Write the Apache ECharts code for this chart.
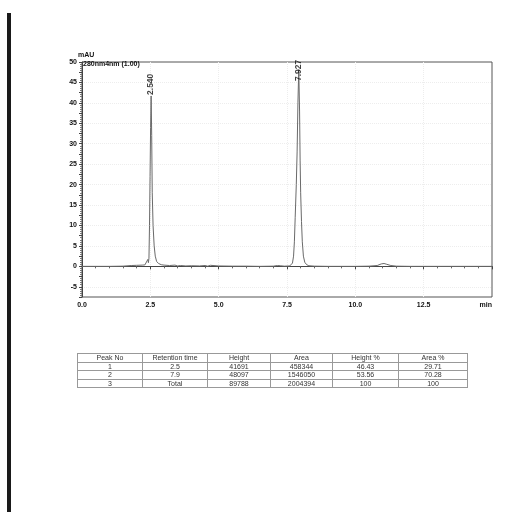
<!DOCTYPE html>
<html>
<head>
<meta charset="utf-8">
<script src="https://cdn.jsdelivr.net/npm/echarts@6/dist/echarts.min.js"></script>
<style>
  html, body { margin: 0; padding: 0; background: #fff; }
  #chart { position: absolute; left: 0; top: 0; width: 529px; height: 522px; }
  #tbl { position: absolute; left: 77px; top: 353px; border-collapse: collapse; table-layout: fixed;
         font-family: "Liberation Sans", Arial, sans-serif; font-size: 7px; color: #333; border: 1px solid #777; }
  #tbl td { border: 1px solid #999; text-align: center; padding: 0; height: 7.5px; line-height: 7px; white-space: nowrap; overflow: hidden; }
</style>
</head>
<body>
<div id="chart"></div>
<table id="tbl"></table>
<script>
// chromatogram trace (min, mAU)
var times = [0.0, 0.5, 1.0, 1.5, 1.8, 2.0, 2.2, 2.3, 2.36, 2.41, 2.43, 2.45, 2.47, 2.49, 2.51, 2.53, 2.55, 2.57, 2.60, 2.64, 2.68, 2.73, 2.80, 2.90, 3.0, 3.2, 3.4, 3.5, 3.6, 3.8, 4.0, 4.3, 4.5, 4.6, 4.7, 5.0, 5.5, 6.0, 6.5, 7.0, 7.15, 7.2, 7.25, 7.4, 7.6, 7.66, 7.70, 7.74, 7.77, 7.80, 7.84, 7.87, 7.90, 7.93, 7.96, 7.98, 8.00, 8.03, 8.06, 8.10, 8.15, 8.22, 8.30, 8.50, 9.0, 9.5, 10.0, 10.5, 10.8, 10.95, 11.05, 11.15, 11.3, 11.5, 12.0, 13.0, 14.0, 15.0];
var signal = [0.0, 0.0, 0.0, 0.05, 0.2, 0.25, 0.3, 0.35, 0.5, 1.7, 0.9, 2.0, 10.0, 22.0, 34.0, 41.69, 32.0, 18.0, 10.0, 5.0, 2.5, 1.2, 0.7, 0.4, 0.3, 0.2, 0.3, 0.1, 0.2, 0.1, 0.15, 0.1, 0.2, 0.05, 0.25, 0.1, 0.05, 0.05, 0.0, 0.05, 0.2, 0.3, 0.15, 0.05, 0.1, 0.3, 0.8, 2.5, 6.0, 12.0, 20.0, 28.0, 40.0, 48.1, 38.0, 26.0, 18.0, 11.0, 6.0, 2.5, 1.0, 0.4, 0.15, 0.05, 0.0, 0.0, 0.0, 0.05, 0.2, 0.6, 0.7, 0.5, 0.2, 0.05, 0.0, 0.0, 0.0, 0.0];

// peak labels
var peakTimes = [2.53, 7.93];
var peakLabels = ['2.540', '7.927'];

// axis ticks
var xTicks = [0.0, 2.5, 5.0, 7.5, 10.0, 12.5, 15.0];
var xTickLabels = ['0.0', '2.5', '5.0', '7.5', '10.0', '12.5', 'min'];

// results table
var tblHeaders = ['Peak No', 'Retention time', 'Height', 'Area', 'Height %', 'Area %'];
var peakNo = ['1', '2', '3'];
var retTimes = ['2.5', '7.9', 'Total'];
var heights = [41691, 48097, 89788];
var areas = [458344, 1546050, 2004394];
var heightPct = ['46.43', '53.56', '100'];
var areaPct = ['29.71', '70.28', '100'];

// ---- build table ----
var colW = [65, 65, 63, 62, 66, 69];
var tbl = document.getElementById('tbl');
var html = '<colgroup>' + colW.map(function (w) { return '<col style="width:' + w + 'px">'; }).join('') + '</colgroup>';
html += '<tr>' + tblHeaders.map(function (h) { return '<td>' + h + '</td>'; }).join('') + '</tr>';
for (var i = 0; i < peakNo.length; i++) {
  html += '<tr><td>' + peakNo[i] + '</td><td>' + retTimes[i] + '</td><td>' + heights[i] + '</td><td>' + areas[i] +
          '</td><td>' + heightPct[i] + '</td><td>' + areaPct[i] + '</td></tr>';
}
tbl.innerHTML = html;

// ---- chart ----
var trace = times.map(function (t, i) { return [t, signal[i]]; });
var peaks = peakTimes.map(function (t, i) {
  var item = { value: [t, heights[i] / 1000], name: peakLabels[i] };
  if (i === 1) { item.label = { align: 'right', distance: 8, offset: [2, 0] }; }
  return item;
});

var chart = echarts.init(document.getElementById('chart'), null, { renderer: 'canvas' });
var lblFont = { fontFamily: 'Liberation Sans', fontSize: 7, fontWeight: 'bold', color: '#111' };

chart.setOption({
  animation: false,
  backgroundColor: '#fff',
  grid: { left: 82, top: 62, right: 37, bottom: 225, show: true, borderColor: '#555', borderWidth: 1, backgroundColor: 'transparent' },
  graphic: [
    { type: 'rect', left: 7, top: 13, shape: { width: 4, height: 499 }, style: { fill: '#1a1a1a' } },
    { type: 'text', left: 78, top: 52, style: { text: 'mAU', font: 'bold 7px "Liberation Sans"', fill: '#111' } },
    { type: 'text', left: 83, top: 61, style: { text: '280nm4nm (1.00)', font: 'bold 7px "Liberation Sans"', fill: '#111' } }
  ],
  xAxis: {
    type: 'value', min: 0, max: 15, interval: 2.5,
    axisLine: { lineStyle: { color: '#444', width: 1 } },
    axisTick: { show: true, length: 3, lineStyle: { color: '#444' } },
    minorTick: { show: true, splitNumber: 5, length: 2, lineStyle: { color: '#666' } },
    axisLabel: Object.assign({ margin: 5, alignMaxLabel: 'right',
      formatter: function (v) { var k = xTicks.indexOf(v); return k >= 0 ? xTickLabels[k] : ''; } }, lblFont),
    splitLine: { show: true, showMinLine: false, showMaxLine: false, lineStyle: { color: '#ededed', type: 'dotted', width: 1 } }
  },
  yAxis: {
    type: 'value', min: -7.5, max: 50, interval: 2.5,
    axisLine: { show: true, lineStyle: { color: '#444', width: 1 } },
    axisTick: { show: true, length: 3, lineStyle: { color: '#444' } },
    minorTick: { show: true, splitNumber: 5, length: 2, lineStyle: { color: '#777' } },
    axisLabel: Object.assign({ margin: 5, formatter: function (v) { return (v % 5 === 0) ? String(v) : ''; } }, lblFont),
    splitLine: { show: true, showMaxLine: false, lineStyle: { color: ['rgba(0,0,0,0)', '#ededed'], type: 'dotted', width: 1 } }
  },
  series: [
    {
      type: 'line', data: trace, symbol: 'none', smooth: false, clip: true,
      lineStyle: { color: '#6a6a6a', width: 1 }, z: 2
    },
    {
      type: 'scatter', data: peaks, symbolSize: 0, z: 5, silent: true,
      label: {
        show: true, formatter: function (p) { return p.name; }, position: 'top', distance: 1, rotate: 90,
        align: 'left', verticalAlign: 'middle', fontFamily: 'Liberation Sans', fontSize: 8.5, fontWeight: 'bold', color: '#111'
      }
    }
  ]
});
</script>
</body>
</html>
